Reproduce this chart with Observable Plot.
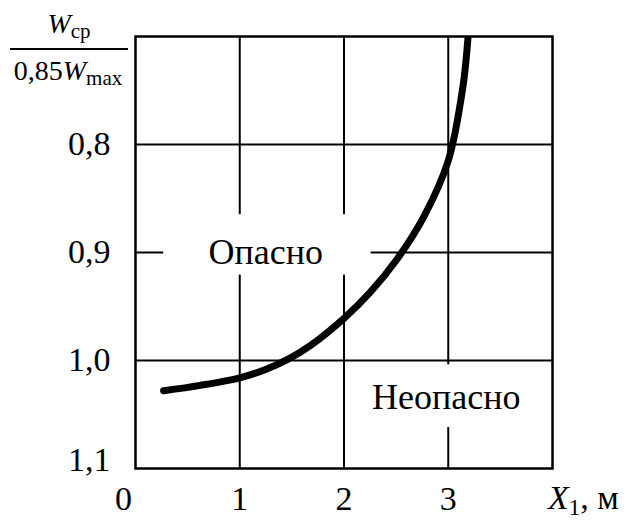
<!DOCTYPE html>
<html>
<head>
<meta charset="utf-8">
<script src="https://cdn.jsdelivr.net/npm/d3@7"></script>
<script src="https://cdn.jsdelivr.net/npm/@observablehq/plot@0.6"></script>
<style>
  html, body { margin: 0; padding: 0; background: #fff; }
  #chart svg { display: block; }
</style>
</head>
<body>
<div id="chart"></div>
<script>
// Boundary curve: distance X1 (m) vs. Wcp / 0.85 Wmax
const curveX = [0.27, 0.62, 1.0, 1.23, 1.46, 1.68, 2.0, 2.25, 2.51, 2.77, 3.0, 3.14, 3.19];
const curveY = [1.028, 1.023, 1.016, 1.009, 0.999, 0.986, 0.961, 0.937, 0.906, 0.866, 0.815, 0.747, 0.7];

// Axis ticks
const xTicks = [0, 1, 2, 3];
const yTicks = [0.8, 0.9, 1.0, 1.1];
const gridX = [1, 2, 3];
const gridY = [0.8, 0.9, 1.0];

// Region labels
const regionNames = ["Опасно", "Неопасно"];
const regionX = [1.25, 2.98];
const regionY = [0.9, 1.034];

// Clear areas in the grid behind the region labels
const clearX1 = [0.27, 2.9];
const clearX2 = [2.26, 3.1];
const clearY1 = [0.865, 1.004];
const clearY2 = [0.921, 1.062];

const curve = curveX.map((x, i) => ({x, y: curveY[i]}));
const regions = regionNames.map((name, i) => ({name, x: regionX[i], y: regionY[i]}));
const clears = clearX1.map((x1, i) => ({x1, x2: clearX2[i], y1: clearY1[i], y2: clearY2[i]}));

const FONT = "'Liberation Serif', 'Times New Roman', serif";
const comma = d => d3.format(".1f")(d).replace(".", ",");
const TICK_SIZE = 34;

const chart = Plot.plot({
  width: 627,
  height: 520,
  marginLeft: 135,
  marginRight: 75,
  marginTop: 36,
  marginBottom: 52,
  style: {fontFamily: FONT, fontSize: `${TICK_SIZE}px`, color: "black", background: "white"},
  x: {domain: [0, 4]},
  y: {domain: [0.7, 1.1], reverse: true},
  marks: [
    Plot.ruleX(gridX, {stroke: "black", strokeWidth: 2}),
    Plot.ruleY(gridY, {stroke: "black", strokeWidth: 2}),
    Plot.rect(clears, {x1: "x1", x2: "x2", y1: "y1", y2: "y2", fill: "white"}),
    Plot.frame({stroke: "black", strokeWidth: 2.5}),
    Plot.line(curve, {x: "x", y: "y", curve: "catmull-rom", stroke: "black", strokeWidth: 7, strokeLinecap: "round", clip: true}),
    Plot.text(regions, {x: "x", y: "y", text: "name", fontSize: 36, fill: "black"}),
    Plot.axisX(xTicks.slice(1), {tickSize: 0, tickPadding: 17, label: null, fontSize: TICK_SIZE}),
    Plot.axisX([xTicks[0]], {tickSize: 0, tickPadding: 17, label: null, fontSize: TICK_SIZE, dx: -12}),
    Plot.axisY(yTicks.slice(0, 3), {tickSize: 0, tickPadding: 25, label: null, tickFormat: comma, fontSize: TICK_SIZE}),
    Plot.axisY([yTicks[3]], {tickSize: 0, tickPadding: 25, label: null, tickFormat: comma, fontSize: TICK_SIZE, dy: -8})
  ]
});

document.getElementById("chart").appendChild(chart);

// Axis titles with italic symbols and subscripts
const svg = d3.select(chart);

const yTitle = svg.append("g")
  .attr("font-family", FONT)
  .attr("fill", "black");

const num = yTitle.append("text")
  .attr("x", 69).attr("y", 33)
  .attr("text-anchor", "middle")
  .attr("font-size", 28);
num.append("tspan").attr("font-style", "italic").text("W");
num.append("tspan").attr("font-size", 21).attr("dy", 5).text("cp");

yTitle.append("line")
  .attr("x1", 10).attr("x2", 128)
  .attr("y1", 49).attr("y2", 49)
  .attr("stroke", "black").attr("stroke-width", 2);

const den = yTitle.append("text")
  .attr("x", 68).attr("y", 80)
  .attr("text-anchor", "middle")
  .attr("font-size", 28);
den.append("tspan").text("0,85");
den.append("tspan").attr("font-style", "italic").text("W");
den.append("tspan").attr("font-size", 21).attr("dy", 5).text("max");

const xTitle = svg.append("text")
  .attr("x", 548).attr("y", 509)
  .attr("text-anchor", "start")
  .attr("font-family", FONT)
  .attr("font-size", TICK_SIZE)
  .attr("fill", "black");
xTitle.append("tspan").attr("font-style", "italic").text("X");
xTitle.append("tspan").attr("font-size", 23).attr("dy", 6).text("1");
xTitle.append("tspan").attr("dy", -6).text(", м");
</script>
</body>
</html>
